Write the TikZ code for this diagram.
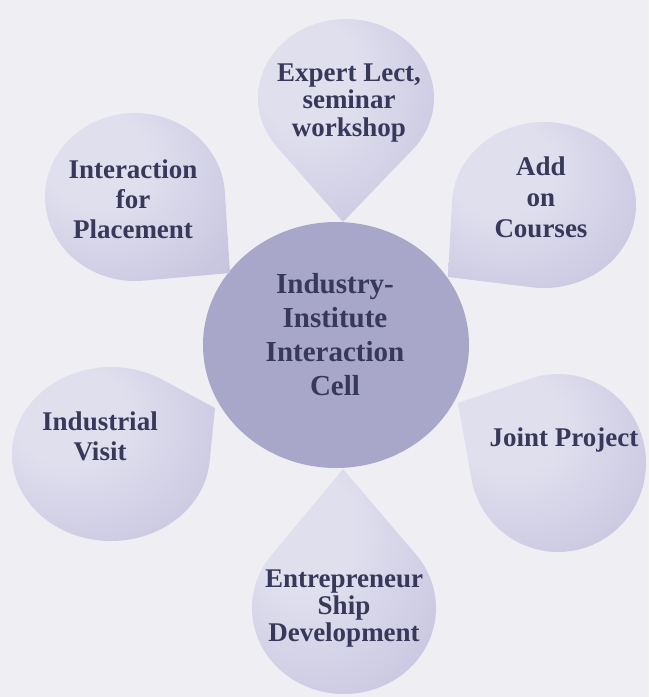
\documentclass[tikz,border=0pt]{standalone}
\usepackage{fontspec}
\setmainfont{Liberation Serif}

\definecolor{paper}{HTML}{EFEFF3}
\definecolor{hubfill}{HTML}{A9A7C9}
\definecolor{petalhi}{HTML}{E0DFEE}
\definecolor{petalmid}{HTML}{C7C5DF}
\definecolor{petallo}{HTML}{A6A4C6}
\definecolor{inktext}{HTML}{38385A}

\pgfdeclareradialshading{petalglow}{\pgfpoint{-14bp}{14bp}}{%
  color(0bp)=(petalhi); color(14bp)=(petalhi); color(40bp)=(petalmid);
  color(60bp)=(petallo); color(70bp)=(petallo)}

% teardrop: ellipse (cx,cy,rx,ry) with a pointed tip at (tx,ty)
\newcommand\teardrop[6]{%
  \pgfmathsetmacro\tdu{(#5-#1)/#3}%
  \pgfmathsetmacro\tdv{(#6-#2)/#4}%
  \pgfmathsetmacro\tdd{sqrt(\tdu*\tdu+\tdv*\tdv)}%
  \pgfmathsetmacro\tdphi{atan2(\tdv,\tdu)}%
  \pgfmathsetmacro\tdalpha{acos(1/\tdd)}%
  \pgfmathsetmacro\tda{\tdphi+\tdalpha}%
  \pgfmathsetmacro\tdb{\tdphi+360-\tdalpha}%
  \path[petal] (#5,#6) -- plot[domain=\tda:\tdb, samples=140]
    ({#1+#3*cos(\x)},{#2+#4*sin(\x)}) -- cycle;%
}
\newcommand\petalfont[1]{\fontsize{27}{#1}\selectfont\bfseries}

\begin{document}
\begin{tikzpicture}[x=1pt,y=-1pt,
  petal/.style={shading=petalglow},
  hub/.style={fill=hubfill},
  label/.style={text=inktext, align=center, inner sep=0pt, anchor=base}]
\useasboundingbox (0,0) rectangle (649,697);
\fill[paper] (0,0) rectangle (649,697);
\begin{scope}
\clip (0,0) rectangle (649,697);

% central cell
\path[hub] (336,345) ellipse[x radius=133, y radius=123];

% six petals around the cell
\teardrop{346}{98}{88}{79}{343}{222}
\teardrop{135}{197}{90}{84}{230}{273}
\teardrop{544}{205}{92}{83}{448}{277}
\teardrop{111}{454}{99}{87}{215}{408}
\teardrop{558}{463}{88}{89}{458}{403}
\teardrop{344}{608}{92}{86}{343}{469}
\end{scope}

% labels, each placed by the baseline of its last line
\node[label, font={\fontsize{29}{34}\selectfont\bfseries}] (hub) at (335,395)
  {Industry-\\Institute\\Interaction\\Cell};
\node[label, font={\petalfont{27.5}}] (expert) at (349,136) {Expert Lect,\\seminar\\workshop};
\node[label, font={\petalfont{30}}] (placement) at (133,238) {Interaction\\for\\Placement};
\node[label, font={\petalfont{31}}] (addon) at (541,237) {Add\\on\\Courses};
\node[label, font={\petalfont{30}}] (visit) at (100,460) {Industrial\\Visit};
\node[label, font={\petalfont{30}}] (joint) at (564,446) {Joint Project};
\node[label, font={\petalfont{27}}] (entre) at (344,641) {Entrepreneur\\Ship\\Development};
\end{tikzpicture}
\end{document}
